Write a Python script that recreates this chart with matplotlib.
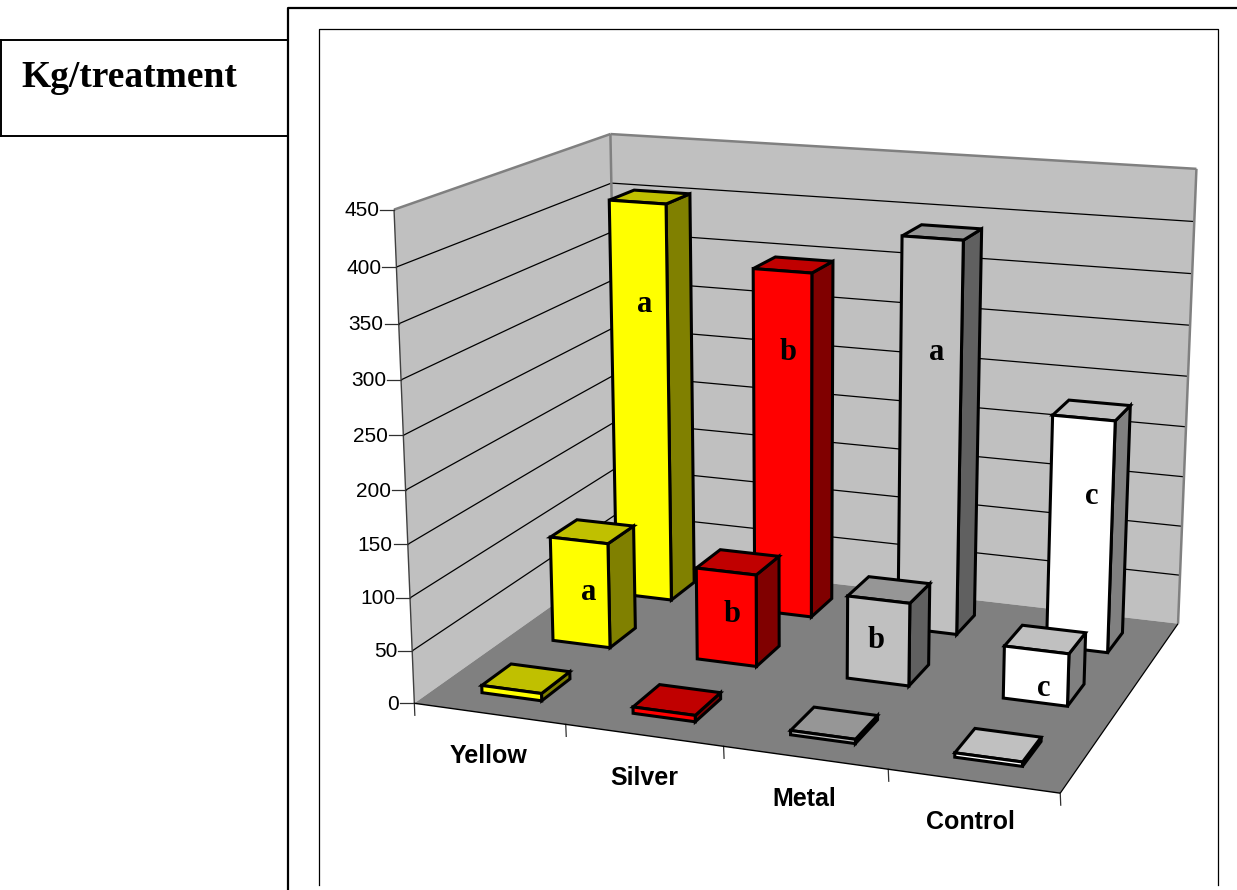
import numpy as np
import matplotlib
matplotlib.use("Agg")
import matplotlib.pyplot as plt
from matplotlib.patches import Polygon

# Chart data
categories = ["Yellow", "Silver", "Metal", "Control"]
rear_row = [403, 346, 388, 228]
middle_row = [104, 90, 80, 50]
front_row = [7, 6, 4, 4]
rear_letters = ["a", "b", "a", "c"]
middle_letters = ["a", "b", "b", "c"]
y_ticks = [0, 50, 100, 150, 200, 250, 300, 350, 400, 450]

# Face colours per category: front, side, top
front_colors = ["#FFFF00", "#FF0000", "#C0C0C0", "#FFFFFF"]
side_colors = ["#808000", "#800000", "#606060", "#808080"]
top_colors = ["#C0C000", "#C00000", "#969696", "#C0C0C0"]

W, H = 1237, 890
fig = plt.figure(figsize=(W / 100, H / 100), dpi=100)
ax = fig.add_axes([0, 0, 1, 1])
ax.set_xlim(0, W)
ax.set_ylim(H, 0)
ax.axis("off")

# Camera: a projective map from (category, depth, value) to the canvas,
# solved from where the corners of the plot box land.
n_cat, n_depth, z_max = 4, 3, 450
box_world = np.array([
    (0, 0, 0), (4, 0, 0), (4, 3, 0), (0, 3, 0),
    (0, 0, 450), (4, 3, 450), (0, 3, 450),
    (4, 3, 400), (0, 3, 400), (0, 0, 400),
], float)
box_canvas = np.array([
    (414, 705), (1060, 792), (1178, 625), (619, 557),
    (394, 210), (1197, 169), (610, 134),
    (1194, 221), (611, 184), (397, 266),
], float)


def solve_camera(world, canvas):
    rows, rhs = [], []
    for (x, y, z), (u, v) in zip(world, canvas):
        rows.append([x, y, z, 1, 0, 0, 0, 0, -u * x, -u * y, -u * z])
        rows.append([0, 0, 0, 0, x, y, z, 1, -v * x, -v * y, -v * z])
        rhs += [u, v]
    p = np.linalg.lstsq(np.array(rows), np.array(rhs), rcond=None)[0]
    return np.append(p, 1).reshape(3, 4)


cam = solve_camera(box_world, box_canvas)


def project(x, y, z):
    q = cam @ np.array([x, y, z, 1.0])
    return q[0] / q[2], q[1] / q[2]


def face(points, color, edge="none", lw=0, zorder=2):
    ax.add_patch(Polygon([project(*p) for p in points], closed=True, facecolor=color,
                         edgecolor=edge, linewidth=lw, joinstyle="miter", zorder=zorder))


def seg(a, b, color="black", lw=1.0, zorder=3):
    (x0, y0), (x1, y1) = project(*a), project(*b)
    ax.plot([x0, x1], [y0, y1], color=color, lw=lw, zorder=zorder, solid_capstyle="butt")


# Walls and floor
face([(0, 0, 0), (4, 0, 0), (4, 3, 0), (0, 3, 0)], "#808080", zorder=1.2)
face([(0, 0, 0), (0, 3, 0), (0, 3, z_max), (0, 0, z_max)], "#C0C0C0", zorder=1)
face([(0, 3, 0), (4, 3, 0), (4, 3, z_max), (0, 3, z_max)], "#C0C0C0", zorder=1)

# Gridlines across both walls
for v in y_ticks[1:-1]:
    seg((0, 0, v), (0, 3, v), lw=0.9, zorder=1.1)
    seg((0, 3, v), (4, 3, v), lw=0.9, zorder=1.1)

# Grey rim along the tops of the walls and the back corner
for a, b in [((0, 0, z_max), (0, 3, z_max)), ((0, 3, z_max), (4, 3, z_max)),
             ((0, 3, 0), (0, 3, z_max)), ((4, 3, 0), (4, 3, z_max))]:
    seg(a, b, color="#808080", lw=1.8, zorder=1.15)
seg((0, 0, 0), (0, 0, z_max), color="#404040", lw=1.0, zorder=1.6)

# Floor front and right edges
seg((0, 0, 0), (4, 0, 0), lw=1.0, zorder=1.7)
seg((4, 0, 0), (4, 3, 0), lw=0.9, zorder=1.7)

# Value axis ticks and labels
for v in y_ticks:
    x, y = project(0, 0, v)
    ax.plot([x - 14, x], [y, y], color="#303030", lw=0.9, zorder=1.6)
    ax.text(x - 15, y + 1, str(v), ha="right", va="center", fontsize=15,
            family="Liberation Sans", color="black")

# Category ticks under the front floor edge
for i in range(5):
    x, y = project(i, 0, 0)
    ax.plot([x, x + 0.5], [y, y + 12], color="#303030", lw=0.9, zorder=1.6)

# Category names sit below the front edge
name_anchors = [(489, 756), (644, 778), (804, 799), (970, 822)]
for name, (x, y) in zip(categories, name_anchors):
    ax.text(x, y, name, ha="center", va="center", fontsize=18, fontweight="bold",
            family="Liberation Sans")


def bar(cat, row, value, base_z):
    width = 0.4
    x0, x1 = cat + 0.3, cat + 0.3 + width
    y0, y1 = row + 0.3, row + 0.3 + width
    edge = dict(edge="black", lw=2.2, zorder=base_z)
    face([(x1, y0, 0), (x1, y1, 0), (x1, y1, value), (x1, y0, value)], side_colors[cat], **edge)
    face([(x0, y0, value), (x1, y0, value), (x1, y1, value), (x0, y1, value)], top_colors[cat], **edge)
    face([(x0, y0, 0), (x1, y0, 0), (x1, y0, value), (x0, y0, value)], front_colors[cat], **edge)


# Back row first so nearer bars overlap it
for row, values in zip([2, 1, 0], [rear_row, middle_row, front_row]):
    for cat, value in enumerate(values):
        bar(cat, row, value, 3 + (2 - row) + cat * 0.1)

# Significance letters on the bars
rear_anchors = [(645, 305), (788, 352), (937, 352), (1092, 497)]
middle_anchors = [(589, 592), (732, 615), (876, 640), (1044, 688)]
for letters, anchors in [(rear_letters, rear_anchors), (middle_letters, middle_anchors)]:
    for s, (x, y) in zip(letters, anchors):
        ax.text(x, y, s, ha="center", va="center", fontsize=22, fontweight="bold",
                family="Liberation Serif", zorder=10)

# Page furniture: heading box and chart frames
ax.text(21, 77.5, "Kg/treatment", ha="left", va="center", fontsize=27, fontweight="bold",
        family="Liberation Serif")
ax.plot([0, 288], [40, 40], color="black", lw=1.4)
ax.plot([0, 288], [136, 136], color="black", lw=1.4)
ax.plot([0.5, 0.5], [40, 136], color="black", lw=1.4)
ax.plot([288, 288, W], [H, 8, 8], color="black", lw=1.6)
ax.plot([319, 319, 1218, 1218], [885, 29, 29, 885], color="black", lw=0.9)

fig.savefig("out.png", dpi=100)
